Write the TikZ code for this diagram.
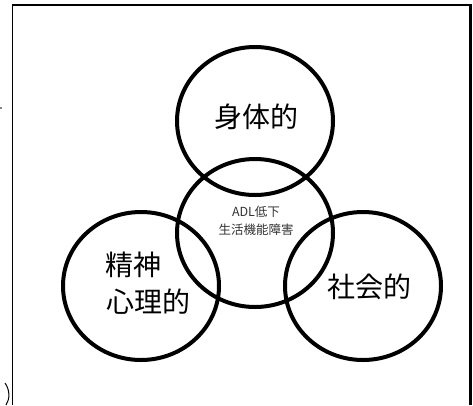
\documentclass[tikz,border=0pt]{standalone}
\usepackage{fontspec}
\newfontfamily\cjk{Noto Sans CJK JP}
\usetikzlibrary{shapes.geometric}
\begin{document}
\begin{tikzpicture}[x=1pt,y=-1pt,
  ring/.style={draw=black,line width=4pt,ellipse,minimum width=156pt,minimum height=148pt,inner sep=0pt},
  big/.style={font=\cjk\fontsize{28}{37}\selectfont,inner sep=0pt},
  small/.style={font=\cjk\fontsize{12.5}{18}\selectfont,inner sep=0pt,align=center,text=black!80}]
\useasboundingbox (0,0) rectangle (473,405);
% frame
\coordinate (tl) at (12.5,5);
\coordinate (tr) at (470.5,5);
\coordinate (bl) at (12.5,405);
\coordinate (br) at (470.5,405);
\draw[line width=1.5pt] (bl) -- (tl);
\draw[line width=2pt] (11.8,5) -- (471.5,5);
\draw[line width=3pt] (tr) -- (br);
% circles
\node[ring] (top) at (255,121) {};
\node[ring] (mid) at (255,233) {};
\node[ring] (left) at (141,286) {};
\node[ring] (right) at (363,286) {};
% labels
\node[big] (t1) at (256,117) {身体的};
\node[big,anchor=west] (l1) at (105,265) {精神};
\node[big,anchor=west] (l2) at (106,302) {心理的};
\node[big] (r1) at (369,287) {社会的};
\node[small] (c1) at (256,212) {ADL低下};
\node[small] (c2) at (256,230) {生活機能障害};
% cropped marks at the left edge
\fill (1,108) circle (0.8pt);
\draw[line width=1pt] (5,383) .. controls (10,390) and (10,399) .. (6,405);
\end{tikzpicture}
\end{document}
